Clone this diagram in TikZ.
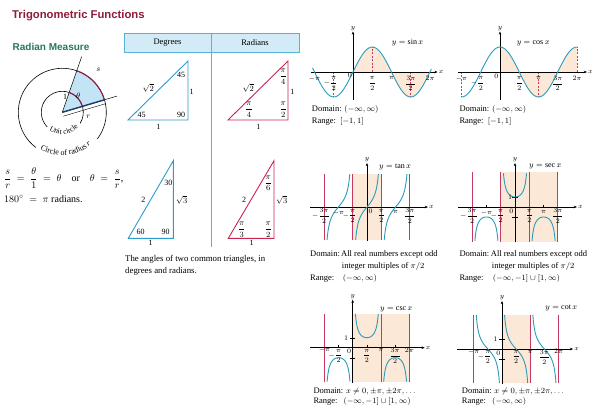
\documentclass[tikz,border=0pt]{standalone}
\usepackage{fontspec}
\setmainfont{Liberation Serif}
\newfontfamily\headfont{Liberation Sans}
\usetikzlibrary{positioning, arrows.meta, decorations.text}
\definecolor{titlered}{HTML}{8E1B3A}
\definecolor{headgreen}{HTML}{23795A}
\definecolor{triblue}{HTML}{2A9CCB}
\definecolor{trired}{HTML}{C9244F}
\definecolor{curveblue}{HTML}{2A9BBE}
\definecolor{asymred}{HTML}{C53A63}
\definecolor{bandpeach}{HTML}{FCE8D6}
\definecolor{headblue}{HTML}{D2EBF7}
\definecolor{ruleblue}{HTML}{55B3D6}
\definecolor{sectorblue}{HTML}{C2E4F4}
\definecolor{arcred}{HTML}{8A1F47}
\definecolor{navy}{HTML}{1E3D6B}
\newcommand{\halfpi}{{\displaystyle\frac{\pi}{2}}}
\newcommand{\thpi}{{\displaystyle\frac{3\pi}{2}}}
\newcommand{\qupi}{{\displaystyle\frac{\pi}{4}}}
\newcommand{\thirdpi}{{\displaystyle\frac{\pi}{3}}}
\newcommand{\sixthpi}{{\displaystyle\frac{\pi}{6}}}
\tikzset{
    >={Stealth[length=3.2pt, width=2.6pt]}, % small filled tips
    axis/.style={->, line width=0.5pt},
    curve/.style={draw=curveblue, line width=0.9pt},
    asym/.style={draw=asymred, line width=0.9pt},
    guide/.style={draw=asymred, line width=0.6pt, dash pattern=on 2pt off 1.5pt},
    band/.style={fill=bandpeach},
    ticklbl/.style={font=\fontsize{7}{8}\selectfont, inner sep=0pt},
    fname/.style={font=\fontsize{8}{9}\selectfont, anchor=west, inner sep=0pt},
    note/.style={font=\fontsize{8.5}{10}\selectfont, anchor=base west, inner sep=0pt},
    tri/.style={line width=0.9pt},
    alabel/.style={font=\fontsize{8}{9}\selectfont, inner sep=0pt},
}

\begin{document}
\begin{tikzpicture}[x=1pt, y=1pt]
    \useasboundingbox (0,0) rectangle (600,-420);

    % headings
    \node[anchor=base west, inner sep=0pt, text=titlered, font=\headfont\bfseries\fontsize{11.3}{13}\selectfont] (title) at (12,-18.5) {Trigonometric Functions};
    \node[anchor=base west, inner sep=0pt, text=headgreen, font=\headfont\bfseries\fontsize{10}{12}\selectfont] (radhead) at (12.5,-51) {Radian Measure};

    % radian measure
    \coordinate (o) at (62.3,-112.3);
    \fill[sectorblue] (o) -- ++(16.5:44) arc[start angle=16.5, end angle=70.8, radius=44] -- cycle;
    \draw[line width=0.6pt] ([shift={(-37:44)}]o) arc[start angle=-37, end angle=233, radius=44];
    \draw[line width=0.6pt] ([shift={(-32:21)}]o) arc[start angle=-32, end angle=224, radius=21];
    \draw[line width=0.5pt] (o) -- ++(70.8:59);
    \draw[line width=0.5pt] (o) -- ++(16.5:57);
    \draw[navy, line width=1.4pt] (o) -- ++(16.5:44);
    \draw[line width=0.4pt] ([shift={(-73.5:4)}]o) -- ++(16.5:44);
    \draw[arcred, line width=1.1pt] ([shift={(16.5:44)}]o) arc[start angle=16.5, end angle=70.8, radius=44];
    \draw[arcred, line width=1.1pt] ([shift={(16.5:21)}]o) arc[start angle=16.5, end angle=70.8, radius=21];
    \node[alabel] (slbl) at (98.3,-70) {$s$};
    \node[alabel] (thlbl) at (78.3,-96) {$\theta$};
    \node[alabel] (onelbl) at (65,-96.7) {1};
    \node[alabel] (rlbl) at (88.3,-116.7) {$r$};
    \path[decorate, decoration={text along path, text align=center,
        text={|\fontsize{7.5}{8}\selectfont|Unit circle}}]
        ([shift={(228:22)}]o) arc[start angle=228, end angle=322, radius=22];
    \path[decorate, decoration={text along path, text align=center,
        text={|\fontsize{8}{9}\selectfont|Circle of radius |\fontsize{8}{9}\selectfont\itshape|r}}]
        ([shift={(233:43)}]o) arc[start angle=233, end angle=318, radius=43];
    \node[anchor=west, inner sep=0pt, font=\fontsize{10}{12}\selectfont] (ratio) at (4,-178)
        {$\displaystyle\frac{s}{r} \;=\; \frac{\theta}{1} \;=\; \theta$\hspace{10pt}or\hspace{10pt}$\displaystyle\theta \;=\; \frac{s}{r}$,};
    \node[anchor=west, inner sep=0pt, font=\fontsize{10}{12}\selectfont] (halfturn) at (4,-199) {$180^\circ \;=\; \pi$ radians.};

    % table of triangles
    \draw[ruleblue, fill=headblue, line width=0.6pt] (124,-33) rectangle (299,-52);
    \draw[ruleblue, line width=0.8pt] (211,-33) -- (211,-247);
    \node[font=\fontsize{8.5}{10}\selectfont] (deghead) at (167.5,-42.5) {Degrees};
    \node[font=\fontsize{8.5}{10}\selectfont] (radhead2) at (255,-42.5) {Radians};

    \draw[tri, triblue] (128,-120) coordinate (da) -- (188,-120) coordinate (db) -- (188,-61) coordinate (dc) -- cycle;
    \node[alabel] (dhyp) at (148.3,-88.3) {$\sqrt{2}$};
    \node[alabel] (dtop) at (181,-75) {45};
    \node[alabel] (dright) at (191.7,-91.7) {1};
    \node[alabel] (dleft) at (141.7,-115) {45};
    \node[alabel] (dright90) at (181,-115) {90};
    \node[alabel] (dbase) at (158.3,-126.7) {1};

    \draw[tri, trired] (228,-120) coordinate (ra) -- (288,-120) coordinate (rb) -- (288,-61) coordinate (rc) -- cycle;
    \node[alabel] (rhyp) at (248.3,-88.3) {$\sqrt{2}$};
    \node[alabel] (rtop) at (283.3,-76.7) {$\qupi$};
    \node[alabel] (rright) at (292.3,-91.7) {1};
    \node[alabel] (rleft) at (249,-110) {$\qupi$};
    \node[alabel] (rright90) at (283.3,-110) {$\halfpi$};
    \node[alabel] (rbase) at (258.3,-126.7) {1};

    \draw[tri, triblue] (128.3,-238.3) coordinate (ea) -- (173.3,-238.3) coordinate (eb) -- (173.3,-160.7) coordinate (ec) -- cycle;
    \node[alabel] (ehyp) at (143.3,-200) {2};
    \node[alabel] (etop) at (168.3,-183.3) {30};
    \node[alabel] (eright) at (181.7,-200) {$\sqrt{3}$};
    \node[alabel] (eleft) at (140.7,-231.7) {60};
    \node[alabel] (eright90) at (165.7,-231.7) {90};
    \node[alabel] (ebase) at (150.7,-243.3) {1};

    \draw[tri, trired] (228.3,-238.3) coordinate (sa) -- (274,-238.3) coordinate (sb) -- (274,-160.7) coordinate (sc) -- cycle;
    \node[alabel] (shyp) at (244,-200) {2};
    \node[alabel] (stop) at (268.3,-183.3) {$\sixthpi$};
    \node[alabel] (sright) at (281.7,-200) {$\sqrt{3}$};
    \node[alabel] (sleft) at (241.7,-230) {$\thirdpi$};
    \node[alabel] (sright90) at (268.3,-230) {$\halfpi$};
    \node[alabel] (sbase) at (251.7,-243.3) {1};

    \node[note, font=\fontsize{8.8}{10}\selectfont] (cap1) at (125,-261.3) {The angles of two common triangles, in};
    \node[note, font=\fontsize{8.8}{10}\selectfont] (cap2) at (125,-273.3) {degrees and radians.};

    % y = sin x
    \begin{scope}[xshift=353pt, yshift=-72pt, x=12.25pt, y=25pt]
        \fill[band] (0,0) -- plot[domain=0:2*pi, samples=80] (\x, {sin(\x r)}) -- cycle;
        \draw[guide] (-pi/2,0) -- (-pi/2,-1) (pi/2,0) -- (pi/2,1) (3*pi/2,0) -- (3*pi/2,-1);
        \draw[axis] (-3.4,0) -- (6.9,0) node[ticklbl, right=1pt] (sinx) {$x$};
        \draw[axis] (0,-1.12) -- (0,1.62) node[ticklbl, above=0.5pt] (siny) {$y$};
        \draw[curve] plot[domain=-3.3:6.4, samples=100, smooth] (\x, {sin(\x r)});
        \node[fname] (sinlbl) at (3.16,1.16) {$y = \sin x$};
        \node[ticklbl, anchor=north east, inner sep=1pt] (sin0) at (0,0) {$0$};
        \foreach \v/\t/\d [count=\i] in {-pi/{$-\pi$}/6.3, -0.5*pi/{\llap{$-$}$\halfpi$}/11.3,
            0.5*pi/{$\halfpi$}/11.3, pi/{$\pi$}/6.3, 1.5*pi/{$\thpi$}/11.3, 2*pi/{$2\pi$}/6.3}
            \node[ticklbl, yshift=-\d pt] (sint\i) at (\v,0) {\t};
    \end{scope}
    \node[note] (sindom) at (311.7,-111.5) {Domain: $(-\infty, \infty)$};
    \node[note] (sinran) at (311.7,-124) {Range:\ \ $[-1, 1]$};

    % y = cos x
    \begin{scope}[xshift=500pt, yshift=-72pt, x=12.25pt, y=25pt]
        \fill[band] (0,0) -- plot[domain=0:2*pi, samples=80] (\x, {cos(\x r)}) -- (2*pi,0) -- cycle;
        \draw[guide] (-pi,0) -- (-pi,-1) (pi,0) -- (pi,-1) (2*pi,0) -- (2*pi,1);
        \draw[axis] (-3.43,0) -- (7.1,0) node[ticklbl, right=1pt] (cosx) {$x$};
        \draw[axis] (0,-1.12) -- (0,1.62) node[ticklbl, above=0.5pt] (cosy) {$y$};
        \draw[curve] plot[domain=-pi:2*pi, samples=100, smooth] (\x, {cos(\x r)});
        \node[fname] (coslbl) at (1.36,1.16) {$y = \cos x$};
        \node[ticklbl, anchor=north east, inner sep=1.5pt] (cos0) at (0,0) {$0$};
        \foreach \v/\t/\d [count=\i] in {-pi/{$-\pi$}/6.3, -0.5*pi/{\llap{$-$}$\halfpi$}/11.3,
            0.5*pi/{$\halfpi$}/11.3, pi/{$\pi$}/6.3, 1.5*pi/{$\thpi$}/11.3, 2*pi/{$2\pi$}/6.3}
            \node[ticklbl, yshift=-\d pt] (cost\i) at (\v,0) {\t};
    \end{scope}
    \node[note] (cosdom) at (459.3,-111.5) {Domain: $(-\infty, \infty)$};
    \node[note] (cosran) at (459.3,-124) {Range:\ \ $[-1, 1]$};

    % y = tan x
    \begin{scope}[xshift=367pt, yshift=-207pt, x=9.1pt, y=11pt]
        \fill[band] (-pi/2,-3) rectangle (pi/2,3);
        \foreach \k in {-1.5,-0.5,0.5,1.5}
            \draw[asym] (\k*pi,-3) -- (\k*pi,3);
        \draw[axis] (-6.26,0) -- (6.7,0) node[ticklbl, right=1pt] (tanx) {$x$};
        \draw[axis] (0,-3.1) -- (0,4.0) node[ticklbl, above=0.5pt] (tany) {$y$};
        \foreach \k in {-1,0,1}
            \draw[curve] plot[domain=\k*pi-1.249:\k*pi+1.249, samples=50, smooth] (\x, {tan(\x r)});
        \node[fname] (tanlbl) at (1.32,3.66) {$y = \tan x$};
        \node[ticklbl, anchor=north west, inner sep=1.5pt] (tan0) at (0,0) {$0$};
        \foreach \v/\t/\d [count=\i] in {-1.5*pi/{\llap{$-$}$\thpi$}/8.7, -pi/{$-\pi$}/5.3,
            -0.5*pi/{\llap{$-$}$\halfpi$}/8.7, 0.5*pi/{$\halfpi$}/8.7, pi/{$\pi$}/5.3, 1.5*pi/{$\thpi$}/8.7}
            \node[ticklbl, yshift=-\d pt] (tant\i) at (\v,0) {\t};
    \end{scope}
    \node[note] (tandom) at (310,-256) {Domain:};
    \node[note] (tandom1) at (341,-256) {All real numbers except odd};
    \node[note] (tandom2) at (341.7,-268) {integer multiples of $\pi/2$};
    \node[note] (tanran) at (310,-280.5) {Range:};
    \node[note] (tanran1) at (342.7,-280.5) {$(-\infty, \infty)$};

    % y = sec x
    \begin{scope}[xshift=515pt, yshift=-207pt, x=9.1pt, y=10pt]
        \fill[band] (-pi/2,-3.5) rectangle (1.5*pi,3.5);
        \foreach \k in {-1.5,-0.5,0.5,1.5}
            \draw[asym] (\k*pi,-3.5) -- (\k*pi,3.5);
        \draw[axis] (-6.26,0) -- (6.8,0) node[ticklbl, right=1pt] (secx) {$x$};
        \draw[axis] (0,-3.5) -- (0,4.4) node[ticklbl, above=0.5pt] (secy) {$y$};
        \foreach \k in {-1,1}
            \draw[line width=0.4pt] (\k*pi,0) -- (\k*pi,0.25);
        \draw[line width=0.4pt] (-0.3,1) -- (0.3,1) (-0.3,-1) -- (0.3,-1);
        \foreach \k in {-1,0,1}
            \draw[curve] plot[domain=\k*pi-1.27:\k*pi+1.27, samples=50, smooth] (\x, {1/cos(\x r)});
        \node[fname] (seclbl) at (1.54,4.03) {$y = \sec x$};
        \node[ticklbl, anchor=east, inner sep=1pt] (sec1) at (-0.2,1) {1};
        \node[ticklbl, anchor=north east, inner sep=1.5pt] (sec0) at (0,0) {$0$};
        \foreach \v/\t/\d [count=\i] in {-1.5*pi/{\llap{$-$}$\thpi$}/8.7, -pi/{$-\pi$}/5.3,
            -0.5*pi/{\llap{$-$}$\halfpi$}/8.7, 0.5*pi/{$\halfpi$}/8.7, pi/{$\pi$}/5.3, 1.5*pi/{$\thpi$}/8.7}
            \node[ticklbl, yshift=-\d pt] (sect\i) at (\v,0) {\t};
    \end{scope}
    \node[note] (secdom) at (459.3,-256) {Domain:};
    \node[note] (secdom1) at (490.7,-256) {All real numbers except odd};
    \node[note] (secdom2) at (491.7,-268) {integer multiples of $\pi/2$};
    \node[note] (secran) at (459.3,-280.5) {Range:};
    \node[note] (secran1) at (492.7,-280.5) {$(-\infty, -1] \cup [1, \infty)$};

    % y = csc x
    \begin{scope}[xshift=352.7pt, yshift=-347.7pt, x=9pt, y=10pt]
        \fill[band] (0,-3.4) rectangle (2*pi,3.4);
        \foreach \k in {-1,1,2}
            \draw[asym] (\k*pi,-3.4) -- (\k*pi,3.4);
        \draw[axis] (-4.7,0) -- (8,0) node[ticklbl, right=1pt] (cscx) {$x$};
        \draw[axis] (0,-3.5) -- (0,4.8) node[ticklbl, above=0.5pt] (cscy) {$y$};
        \foreach \k in {-0.5,0.5,1.5}
            \draw[line width=0.4pt] (\k*pi,0) -- (\k*pi,0.25);
        \draw[line width=0.4pt] (-0.3,1) -- (0.3,1) (-0.3,-1) -- (0.3,-1);
        \foreach \k in {-1,0,1}
            \draw[curve] plot[domain=\k*pi+0.2987:\k*pi+pi-0.2987, samples=50, smooth] (\x, {1/sin(\x r)});
        \node[fname] (csclbl) at (3.03,3.87) {$y = \csc x$};
        \node[ticklbl, anchor=east, inner sep=1pt] (csc1) at (-0.4,1) {1};
        \node[ticklbl, anchor=north east, inner sep=1.5pt] (csc0) at (0,0) {$0$};
        \foreach \v/\t/\d [count=\i] in {-pi/{$-\pi$}/2.5, -0.5*pi/{\llap{$-$}$\halfpi$}/8,
            0.5*pi/{$\halfpi$}/8, pi/{$\pi$}/2.5, 1.5*pi/{$\thpi$}/8, 2*pi/{$2\pi$}/2.5}
            \node[ticklbl, yshift=-\d pt] (csct\i) at (\v,0) {\t};
    \end{scope}
    \node[note] (cscdom) at (313.3,-393) {Domain: $x \neq 0, \pm\pi, \pm 2\pi, \ldots$};
    \node[note] (cscran) at (313.3,-403) {Range:};
    \node[note] (cscran1) at (343.3,-403) {$(-\infty, -1] \cup [1, \infty)$};

    % y = cot x
    \begin{scope}[xshift=502pt, yshift=-349pt, x=9pt, y=10pt]
        \fill[band] (0,-3.4) rectangle (pi,3.4);
        \foreach \k in {-1,1,2}
            \draw[asym] (\k*pi,-3.4) -- (\k*pi,3.4);
        \draw[axis] (-5,0) -- (7.9,0) node[ticklbl, right=1pt] (cotx) {$x$};
        \draw[axis] (0,-3.5) -- (0,4.8) node[ticklbl, above=0.5pt] (coty) {$y$};
        \draw[line width=0.4pt] (-0.3,1) -- (0.3,1) (-0.3,-1) -- (0.3,-1);
        \foreach \k in {-1,0,1}
            \draw[curve] plot[domain=\k*pi+0.2858:\k*pi+pi-0.2858, samples=50, smooth] (\x, {cos(\x r)/sin(\x r)});
        \node[fname] (cotlbl) at (4.8,4.1) {$y = \cot x$};
        \node[ticklbl, anchor=east, inner sep=1pt] (cot1) at (-0.4,1) {1};
        \node[ticklbl, anchor=north east, inner sep=1.5pt] (cot0) at (0,0) {$0$};
        \foreach \v/\t/\d [count=\i] in {-pi/{$-\pi$}/2.5, -0.5*pi/{\llap{$-$}$\halfpi$}/8,
            0.5*pi/{$\halfpi$}/8, pi/{$\pi$}/2.5, 1.5*pi/{$\thpi$}/8, 2*pi/{$2\pi$}/2.5}
            \node[ticklbl, yshift=-\d pt] (cott\i) at (\v,0) {\t};
    \end{scope}
    \node[note] (cotdom) at (461.7,-393) {Domain: $x \neq 0, \pm\pi, \pm 2\pi, \ldots$};
    \node[note] (cotran) at (461.7,-403) {Range:};
    \node[note] (cotran1) at (492,-403) {$(-\infty, \infty)$};
\end{tikzpicture}
\end{document}
